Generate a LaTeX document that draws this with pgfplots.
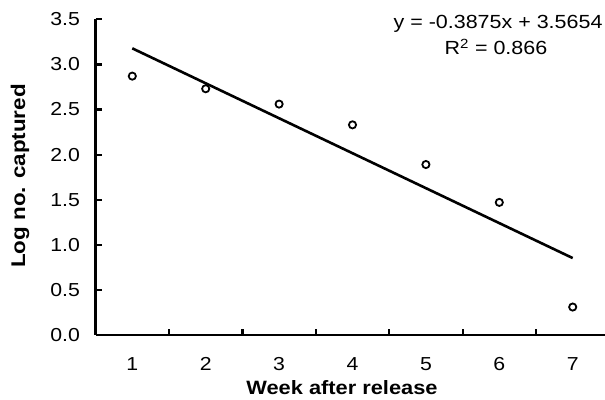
\documentclass[border=0pt]{standalone}
\usepackage{fontspec}
\setmainfont{Liberation Sans}[FakeStretch=1.13]
\usepackage{pgfplots}
\pgfplotsset{compat=1.18}
\begin{document}
\begin{tikzpicture}[x=1pt,y=1pt]
\begin{axis}[
  at={(95.6pt,64pt)}, anchor=south west,
  scale only axis, width=509.4pt, height=315.7pt,
  xmin=0.5, xmax=7.44, ymin=0, ymax=3.5,
  axis x line=bottom, axis y line=left,
  axis line style={-, line width=2.7pt, black},
  tick align=inside,
  major tick length=6.5pt, minor tick length=6.5pt,
  tick style={line width=2.2pt, black},
  every major x tick/.append style={draw=none},
  xtick={1,...,7},
  minor xtick={1.5,2.5,...,6.5},
  ytick={0,0.5,...,3.5},
  /pgf/number format/assume math mode=true,
  yticklabel style={/pgf/number format/.cd, fixed, fixed zerofill, precision=1, /tikz/.cd,
     anchor=east, inner sep=0pt, xshift=-15.5pt},
  xticklabel style={anchor=base, inner sep=0pt, yshift=-35.7pt},
  ticklabel style={font=\fontsize{18.8}{22}\selectfont},
  every axis x label/.style={at={(axis description cs:0.4837,-0.190)}, anchor=base,
     font=\fontsize{19.3}{23}\selectfont\bfseries},
  every axis y label/.style={at={(axis description cs:-0.1484,0.5036)}, rotate=90, anchor=center,
     font=\fontsize{19.8}{23}\selectfont\bfseries},
  xlabel={Week after release},
  ylabel={Log no. captured},
  clip=false,
]
\addplot[black, line width=2.6pt] coordinates {(1,3.1779) (7,0.8529)};
\addplot[only marks, mark=o, mark size=3.6pt, mark options={line width=1.8pt, black}]
  coordinates {(1,2.87) (2,2.73) (3,2.56) (4,2.33) (5,1.89) (6,1.47) (7,0.31)};
\node[anchor=base, font=\fontsize{19}{23}\selectfont] at (rel axis cs:0.790,0.9715) {y = -0.3875x + 3.5654};
\node[anchor=base, font=\fontsize{19}{23}\selectfont] at (rel axis cs:0.786,0.889) {R\textsuperscript{2} = 0.866};
\end{axis}
\pgfresetboundingbox
\useasboundingbox (0,0) rectangle (605,399);
\end{tikzpicture}
\end{document}
